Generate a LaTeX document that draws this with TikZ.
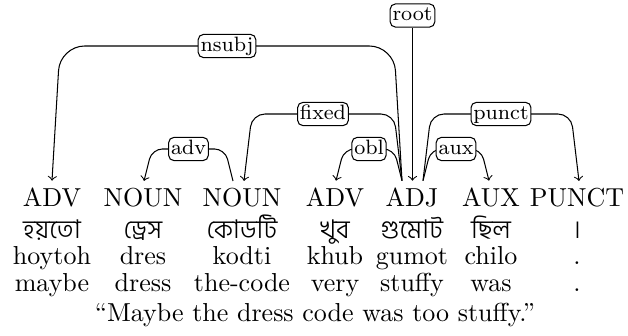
\documentclass[tikz,border=0pt]{standalone}
\usepackage{fontspec}
\newfontfamily\bnfont[Script=Bengali, UprightFont={* Light}]{Hind Siliguri}
\usetikzlibrary{calc}

\begin{document}
\begin{tikzpicture}[x=0.3846pt,y=-0.3846pt,
  postag/.style={anchor=base, inner xsep=0pt, inner ysep=2.77pt},
  word/.style={anchor=base, inner sep=0pt},
  bnword/.style={anchor=base, inner sep=0pt, font=\bnfont\fontsize{10pt}{12pt}\selectfont},
  deplabel/.style={draw, fill=white, rounded corners=2pt, font=\footnotesize,
    text height=5.8pt, text depth=1.6pt, inner xsep=0.9pt, inner ysep=0.75pt},
  arc/.style={->, line width=0.4pt},
]
\useasboundingbox (0,0) rectangle (628,336);

% part-of-speech row
\node[postag] (p1) at (52,207) {ADV};
\node[postag] (p2) at (143,207) {NOUN};
\node[postag] (p3) at (242,207) {NOUN};
\node[postag] (p4) at (335,207) {ADV};
\node[postag] (p5) at (412,207) {ADJ};
\node[postag] (p6) at (491,207) {AUX};
\node[postag] (p7) at (577,207) {PUNCT};

% Bengali words
\node[bnword] (b1) at (52,239) {হয়তো};
\node[bnword] (b2) at (143,239) {ড্রেস};
\node[bnword] (b3) at (242,239) {কোডটি};
\node[bnword] (b4) at (335,239) {খুব};
\node[bnword] (b5) at (412,239) {গুমোট};
\node[bnword] (b6) at (491,239) {ছিল};
\node[bnword] (b7) at (577,239) {।};

% transliteration
\node[word] (t1) at (52,265) {hoytoh};
\node[word] (t2) at (143,265) {dres};
\node[word] (t3) at (242,265) {kodti};
\node[word] (t4) at (335,265) {khub};
\node[word] (t5) at (412,265) {gumot};
\node[word] (t6) at (491,265) {chilo};
\node[word] (t7) at (577,265) {.};

% gloss
\node[word] (g1) at (52,292) {maybe};
\node[word] (g2) at (143,292) {dress};
\node[word] (g3) at (242,292) {the-code};
\node[word] (g4) at (335,292) {very};
\node[word] (g5) at (412,292) {stuffy};
\node[word] (g6) at (491,292) {was};
\node[word] (g7) at (577,292) {.};

% free translation
\node[word] (tr) at (315,322) {``Maybe the dress code was too stuffy.''};

% arc levels
\coordinate (lev1) at (0,149);
\coordinate (lev2) at (0,114);
\coordinate (lev3) at (0,46);

% arc end points on the tags
\coordinate (adjL) at ($(p5.north)+(-10,0)$);
\coordinate (adjR) at ($(p5.north)+(11,0)$);
\coordinate (nounB) at ($(p3.north)+(-9,0)$);
\coordinate (advA) at (p1.north);
\coordinate (nounA) at ($(p2.north)+(1,0)$);
\coordinate (nounBin) at ($(p3.north)+(2,0)$);
\coordinate (advB) at ($(p4.north)+(1,0)$);
\coordinate (auxA) at ($(p6.north)+(-2,0)$);
\coordinate (punA) at ($(p7.north)+(2,0)$);

% root
\node[deplabel] (root) at (412.5,15.5) {root};
\draw[arc] (root) -- ($(p5.north)+(0.5,0)$);

% dependency arcs
\draw[arc, rounded corners=9.5pt] (adjL) -- ($(adjL |- lev3)+(-8,0)$)
  -- node[deplabel] (lnsubj) {nsubj} ($(advA |- lev3)+(8,0)$) -- (advA);
\draw[arc, rounded corners=5pt] (adjL) -- ($(adjL |- lev2)+(-8,0)$)
  -- node[deplabel] (lfixed) {fixed} ($(nounBin |- lev2)+(8,0)$) -- (nounBin);
\draw[arc, rounded corners=4pt] (adjL) -- ($(adjL |- lev1)+(-8,0)$)
  -- node[deplabel] (lobl) {obl} ($(advB |- lev1)+(8,0)$) -- (advB);
\draw[arc, rounded corners=4pt] (nounB) -- ($(nounB |- lev1)+(-8,0)$)
  -- node[deplabel] (ladv) {adv} ($(nounA |- lev1)+(8,0)$) -- (nounA);
\draw[arc, rounded corners=4pt] (adjR) -- ($(adjR |- lev1)+(8,0)$)
  -- node[deplabel] (laux) {aux} ($(auxA |- lev1)+(-8,0)$) -- (auxA);
\draw[arc, rounded corners=5pt] (adjR) -- ($(adjR |- lev2)+(8,0)$)
  -- node[deplabel] (lpunct) {punct} ($(punA |- lev2)+(-8,0)$) -- (punA);
\end{tikzpicture}
\end{document}
